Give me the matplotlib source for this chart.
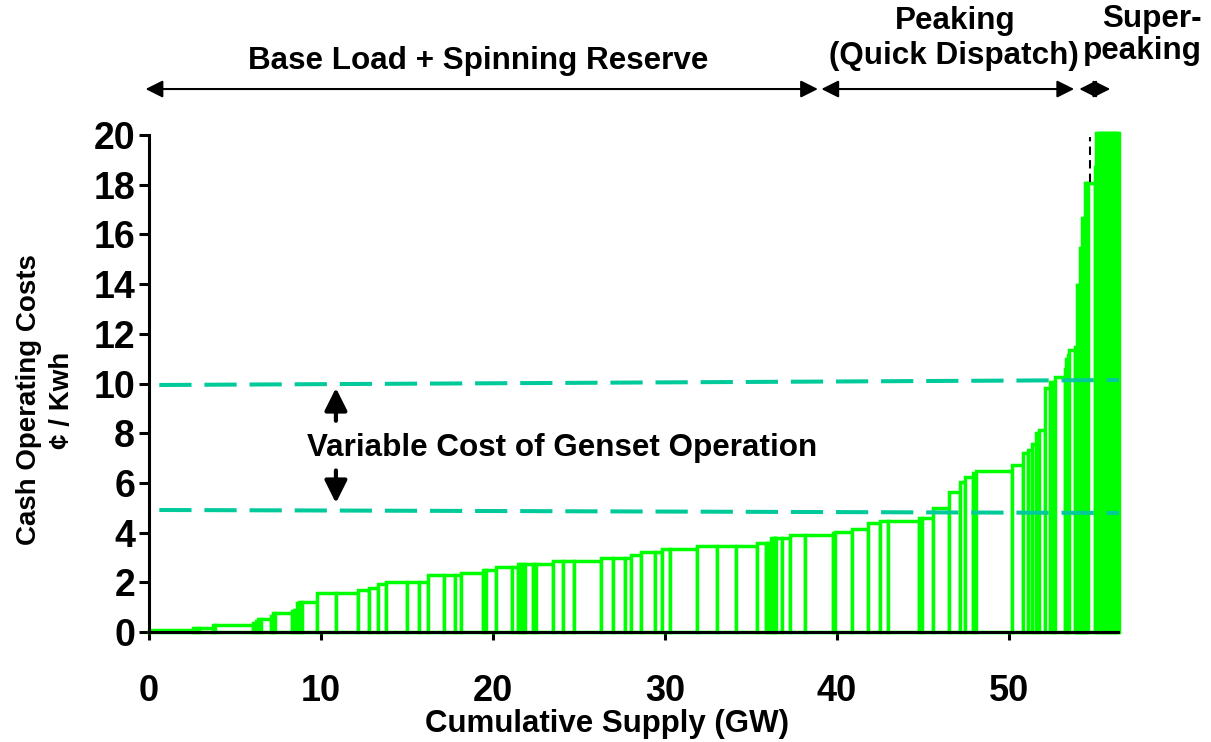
import matplotlib
matplotlib.use("Agg")
import matplotlib.pyplot as plt
import numpy as np

# ---------------- data ----------------
# cumulative supply (GW) at the edges of each generating unit
supply_edges = [0, 2.56, 2.73, 2.9, 3.7, 3.85, 6.05, 6.2, 6.35, 6.5, 7.1, 7.2, 7.35, 8.3,
                8.45, 8.6, 8.75, 8.9, 9.75, 10.9, 12.15, 12.8, 13.33, 13.8, 14.98, 15.72,
                16.24, 17.15, 17.79, 18.12, 19.43, 19.6, 20.2, 21.09, 21.47, 21.6, 21.73,
                21.86, 22.34, 22.53, 23.5, 24.09, 24.71, 26.3, 26.96, 27.67, 28.05, 28.6,
                29.42, 29.86, 30.29, 31.84, 33.04, 34.16, 35.36, 35.87, 36.0, 36.2, 36.3,
                36.4, 36.49, 36.83, 37.27, 38.14, 39.75, 39.9, 40.9, 41.8, 42.5, 42.98,
                44.8, 44.95, 45.6, 46.5, 47.15, 47.44, 47.92, 48.1, 50.2, 50.8, 51.1,
                51.37, 51.57, 51.76, 52.09, 52.38, 52.55, 52.67, 53.26, 53.34, 53.42,
                53.5, 53.84, 53.92, 53.97, 54.05, 54.13, 54.2, 54.28, 54.35, 54.42, 54.5,
                54.6, 55.0, 55.09, 55.2, 55.3, 55.4, 55.5, 55.6, 55.7, 55.8, 55.9, 56.0,
                56.1, 56.2, 56.3, 56.4]
# cash operating cost of each unit (cents / kWh)
unit_cost = [0.08, 0.18, 0.18, 0.15, 0.3, 0.28, 0.35, 0.45, 0.52, 0.52, 0.65, 0.75, 0.75,
             0.85, 0.9, 1.15, 1.22, 1.22, 1.58, 1.58, 1.69, 1.78, 1.92, 2.02, 2.02, 2.02,
             2.29, 2.29, 2.29, 2.39, 2.49, 2.49, 2.63, 2.63, 2.74, 2.74, 2.74, 2.74, 2.74,
             2.74, 2.86, 2.86, 2.86, 2.96, 2.96, 2.96, 3.1, 3.2, 3.2, 3.33, 3.33, 3.46,
             3.46, 3.46, 3.57, 3.57, 3.57, 3.77, 3.77, 3.77, 3.77, 3.77, 3.92, 3.92, 4.0,
             4.04, 4.13, 4.37, 4.48, 4.48, 4.57, 4.57, 4.98, 5.65, 6.02, 6.25, 6.38, 6.48,
             6.72, 7.2, 7.32, 7.57, 8.02, 8.13, 9.8, 10.07, 10.07, 10.27, 10.6, 11.0,
             11.15, 11.35, 11.48, 11.48, 13.96, 13.96, 15.44, 15.44, 16.65, 16.65, 18.06,
             18.06, 18.06, 18.72, 20.1, 20.1, 20.1, 20.1, 20.1, 20.1, 20.1, 20.1, 20.1,
             20.1, 20.1, 20.1, 20.1]

# variable-cost band (dashed lines): [x_start, x_end], [y_start, y_end]
band_x = [0.6, 56.4]
upper_band_y = [9.94, 10.14]
lower_band_y = [4.91, 4.79]

# dispatch regions along the top (GW)
region_labels = ["Base Load + Spinning Reserve", "Peaking\n(Quick Dispatch)", "Super-\npeaking"]
region_bounds = [(-0.2, 38.9), (39.1, 53.8), (54.1, 55.9)]

x_ticks = [0, 10, 20, 30, 40, 50]
y_ticks = [0, 2, 4, 6, 8, 10, 12, 14, 16, 18, 20]

# ---------------- plot ----------------
FONT = "Liberation Sans"
plt.rcParams['font.family'] = [FONT, 'DejaVu Sans']
plt.rcParams['font.weight'] = 'bold'

W, H = 1211, 742
fig = plt.figure(figsize=(W / 100, H / 100), dpi=100)
ax = fig.add_axes([149 / W, 110 / H, (1118 - 149) / W, (632 - 135) / H])

edges = np.array(supply_edges)
widths = np.diff(edges)
ax.bar(edges[:-1], unit_cost, width=widths, align='edge', facecolor='white',
       edgecolor='#00FF00', linewidth=2.5, zorder=2, clip_on=False)

teal = '#00C99A'
for ys in (upper_band_y, lower_band_y):
    ax.plot(band_x, ys, color=teal, lw=2.9, dashes=(8, 3.2), zorder=4, clip_on=False)

# black dashed marker above the last peaking unit
ax.plot([54.74, 54.74], [18.1, 19.9], color='black', lw=1.5, dashes=(4, 2.5), zorder=4)

ax.set_xlim(0, 56.35)
ax.set_ylim(0, 20)
ax.set_xticks(x_ticks)
ax.set_yticks(y_ticks)
ax.spines['top'].set_visible(False)
ax.spines['right'].set_visible(False)
for s in ('left', 'bottom'):
    ax.spines[s].set_linewidth(2.2)
    ax.spines[s].set_zorder(3)
ax.tick_params(axis='y', direction='out', length=7, width=2.2, pad=3, labelsize=27)
ax.tick_params(axis='x', direction='out', length=6, width=2.2, pad=24, labelsize=26)
for lab in ax.get_xticklabels() + ax.get_yticklabels():
    lab.set_fontweight('bold')

# vertical arrows for variable cost band
arrow_x = 10.87
ax.annotate('', xy=(arrow_x, 9.82), xytext=(arrow_x, 8.5),
            arrowprops=dict(arrowstyle='-|>', color='black', lw=3, mutation_scale=34,
                            shrinkA=0, shrinkB=0), zorder=5)
ax.annotate('', xy=(arrow_x, 5.19), xytext=(arrow_x, 6.5),
            arrowprops=dict(arrowstyle='-|>', color='black', lw=3, mutation_scale=34,
                            shrinkA=0, shrinkB=0), zorder=5)
ax.text(24.0, 7.42, "Variable Cost of Genset Operation", ha='center', va='center',
        fontsize=22.6, fontweight='bold', zorder=5)

# top region arrows
arrow_y = 21.85
for (x0, x1) in region_bounds:
    ax.annotate('', xy=(x1, arrow_y), xytext=(x0, arrow_y), xycoords='data',
                arrowprops=dict(arrowstyle='<|-|>', color='black', lw=1.5, mutation_scale=26,
                                shrinkA=0, shrinkB=0), annotation_clip=False)

def px_to_fig(x, y):
    return x / W, 1 - y / H

fig.text(*px_to_fig(478, 61), region_labels[0], ha='center', va='center', fontsize=22.6,
         fontweight='bold')
p1, p2 = region_labels[1].split("\n")
fig.text(*px_to_fig(955, 21), p1, ha='center', va='center', fontsize=22.6, fontweight='bold')
fig.text(*px_to_fig(954, 56), p2, ha='center', va='center', fontsize=22.6, fontweight='bold')
s1, s2 = region_labels[2].split("\n")
fig.text(*px_to_fig(1202, 19), s1, ha='right', va='center', fontsize=22.6, fontweight='bold')
fig.text(*px_to_fig(1202, 51), s2, ha='right', va='center', fontsize=22.6, fontweight='bold')

# axis labels
fig.text(*px_to_fig(46, 400), "Cash Operating Costs\n\u00a2 / Kwh", rotation=90,
         ha='center', va='center', ma='center', fontsize=20, fontweight='bold',
         linespacing=1.35)
fig.text(*px_to_fig(607, 724), "Cumulative Supply (GW)", ha='center', va='center',
         fontsize=22.5, fontweight='bold')

fig.savefig("out.png", dpi=100)
